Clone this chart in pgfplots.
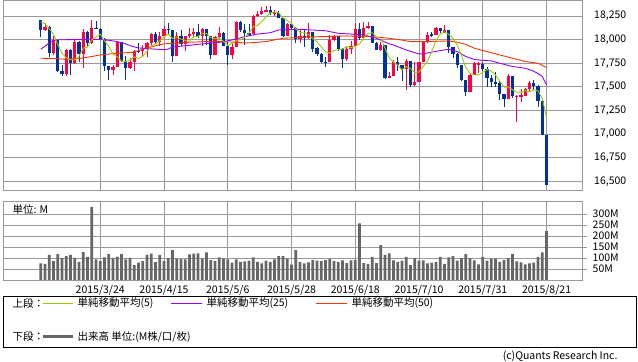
\documentclass[border=0pt]{standalone}
\usepackage{fontspec}
\setmainfont{Noto Sans CJK JP}
\usepackage{pgfplots}
\usepackage{pgfplotstable}
\pgfplotsset{compat=1.18}
\definecolor{upred}{HTML}{FF0040}
\definecolor{dnblue}{HTML}{003399}
\definecolor{ma5c}{HTML}{99CC00}
\definecolor{ma25c}{HTML}{9900FF}
\definecolor{ma50c}{HTML}{FF3300}
\definecolor{gridc}{HTML}{999999}
\definecolor{volc}{HTML}{666666}

\pgfplotstableread{
i o h l c
1 18097 18172 18090 18136
3 17857 18040 17838 17996
6 17635 17905 17615 17895
8 17749 18000 17745 17977
10 17849 18110 17696 18076
12 17959 18208 17950 18128
17 17678 17735 17630 17713
18 17713 17980 17713 17976
21 17698 17810 17690 17763
22 17763 17895 17670 17881
24 17875 17940 17825 17903
25 17903 17980 17820 17959
26 17959 18070 17945 18058
28 17977 18085 17930 18037
29 18037 18140 18035 18113
32 17826 18085 17826 18035
34 17950 18040 17880 18038
35 18038 18120 18020 18059
36 18059 18120 18020 18080
38 18038 18120 17930 18110
41 17841 18035 17841 18024
42 18024 18137 18020 18070
45 17842 17960 17800 17924
46 17924 18195 17924 18191
50 18060 18262 18060 18252
51 18252 18300 18240 18273
52 18273 18349 18260 18299
53 18299 18356 18290 18312
55 18282 18313 18250 18290
58 18042 18175 18035 18163
61 18011 18109 17960 18040
63 18012 18173 18010 18076
68 17764 18049 17764 18000
69 18000 18049 17990 18039
72 17791 17926 17770 17904
73 17904 17990 17850 17936
74 17936 18180 17936 18116
76 18016 18190 18016 18120
77 18120 18190 18110 18144
80 17890 17970 17880 17947
82 17596 17655 17590 17620
83 17620 17785 17620 17758
86 17684 17790 17462 17777
88 17515 17768 17510 17549
89 17549 17768 17549 17760
90 17760 17990 17760 17978
91 17978 18078 17960 18054
93 18050 18137 18050 18120
95 18086 18155 18067 18100
101 17441 17638 17441 17630
102 17630 17768 17630 17751
103 17740 17760 17645 17748
110 17373 17638 17373 17615
112 17395 17413 17124 17403
113 17403 17480 17335 17410
114 17408 17490 17400 17477
115 17477 17557 17450 17545
}\up

\pgfplotstableread{
i o h l c
0 18203 18208 18030 18097
2 18136 18144 17820 17857
4 17996 18000 17655 17663
5 17663 17733 17616 17635
7 17895 17900 17627 17749
9 17977 17985 17768 17849
11 18076 18090 17920 17959
13 18128 18200 18110 18116
14 18116 18118 17995 18011
15 18011 18015 17673 17719
16 17719 17725 17574 17678
19 17976 17980 17760 17776
20 17776 17830 17574 17698
23 17882 17965 17860 17874
27 18058 18085 17950 17977
30 18114 18175 18050 18105
31 18106 18106 17760 17826
33 18035 18100 17930 17950
37 18080 18170 18020 18038
39 18110 18110 17940 18036
40 18036 18036 17790 17841
43 18070 18085 17930 17928
44 17928 17970 17733 17842
47 18191 18195 18080 18105
48 18105 18170 17940 18068
49 18068 18160 18040 18060
54 18312 18351 18260 18285
56 18286 18300 18225 18232
57 18232 18232 18030 18042
59 18163 18166 18100 18126
60 18126 18137 17960 18011
62 18040 18100 17920 18012
64 18076 18085 17873 17906
65 17906 17926 17828 17849
66 17849 17856 17750 17767
67 17768 17820 17715 17762
70 18039 18040 17880 17899
71 17899 17909 17697 17791
75 18116 18173 18000 18016
78 18144 18144 17966 17966
79 17966 17970 17890 17890
81 17947 17947 17585 17596
84 17758 17821 17673 17730
85 17730 17733 17564 17684
87 17777 17777 17497 17515
92 18055 18085 18032 18049
94 18120 18125 18067 18086
96 18100 18105 17863 17919
97 17919 17926 17803 17851
98 17851 17863 17697 17732
99 17732 17733 17557 17569
100 17569 17569 17398 17441
104 17746 17768 17673 17690
105 17690 17715 17497 17598
106 17598 17627 17497 17551
107 17551 17662 17497 17540
108 17540 17557 17363 17420
109 17420 17420 17286 17373
111 17615 17615 17377 17403
116 17545 17575 17469 17511
117 17511 17520 17286 17349
118 17349 17363 16990 16991
119 16991 16991 16460 16460
}\down

\pgfplotstableread{
i v
0 76
1 73
2 114
3 86
4 118
5 101
6 109
7 114
8 101
9 83
10 127
11 105
12 333
13 94
14 86
15 103
16 118
17 101
18 106
19 118
20 94
21 101
22 68
23 79
24 86
25 115
26 120
27 82
28 114
29 86
30 100
31 136
32 98
33 95
34 94
35 117
36 120
37 121
38 98
39 126
40 91
41 86
42 103
43 98
44 94
45 79
46 94
47 83
48 85
49 88
50 103
51 83
52 76
53 88
54 83
55 94
56 109
57 109
58 98
59 70
60 136
61 83
62 76
63 80
64 91
65 88
66 86
67 91
68 95
69 86
70 82
71 89
72 77
73 89
74 91
75 258
76 77
77 73
78 105
79 77
80 159
81 114
82 121
83 89
84 83
85 88
86 105
87 68
88 100
89 88
90 89
91 76
92 79
93 83
94 105
95 73
96 103
97 109
98 88
99 100
100 118
101 100
102 89
103 71
104 105
105 88
106 98
107 98
108 83
109 91
110 100
111 118
112 85
113 80
114 71
115 76
116 79
117 105
118 126
119 223
}\vol

\pgfplotstableread{
i m
0 18187
1 18172
2 18116
3 18058
4 17950
5 17857
6 17809
7 17788
8 17784
9 17821
10 17909
11 17922
12 17998
13 18026
14 18058
15 17987
16 17930
17 17847
18 17819
19 17772
20 17768
21 17785
22 17819
23 17799
24 17824
25 17876
26 17935
27 17954
28 17987
29 18029
30 18058
31 18012
32 18023
33 18006
34 17991
35 17982
36 18032
37 18033
38 18065
39 18065
40 18021
41 18010
42 18016
43 17980
44 17941
45 17958
46 17991
47 17998
48 18026
49 18070
50 18135
51 18152
52 18190
53 18239
54 18284
55 18291
56 18283
57 18231
58 18202
59 18170
60 18115
61 18076
62 18070
63 18053
64 18009
65 17977
66 17922
67 17872
68 17857
69 17884
70 17894
71 17899
72 17927
73 17914
74 17929
75 17953
76 18018
77 18066
78 18072
79 18027
80 18013
81 17909
82 17804
83 17762
84 17730
85 17678
86 17714
87 17693
88 17651
89 17657
90 17716
91 17771
92 17878
93 17992
94 18058
95 18082
96 18055
97 18015
98 17938
99 17834
100 17702
101 17645
102 17625
103 17627
104 17652
105 17683
106 17667
107 17625
108 17560
109 17496
110 17500
111 17470
112 17443
113 17440
114 17461
115 17447
116 17469
117 17458
118 17375
119 17171
}\maf

\pgfplotstableread{
i m
0 17898
1 17930
2 17965
3 17990
4 17998
8 18000
12 18004
14 18000
16 17993
18 17979
20 17955
21 17935
23 17912
26 17902
29 17893
30 17900
31 17922
34 17935
37 17950
42 17971
45 17996
48 18031
51 18059
54 18073
56 18102
61 18109
67 18094
70 18067
73 18059
76 18049
79 18014
82 17955
83 17943
86 17890
89 17848
90 17850
92 17868
95 17891
96 17898
98 17873
100 17821
102 17790
104 17780
106 17775
108 17750
111 17715
114 17697
116 17665
117 17640
118 17609
119 17521
}\matf

\pgfplotstableread{
i m
0 17803
3 17800
6 17792
9 17800
12 17821
14 17838
18 17856
22 17866
23 17884
25 17910
27 17935
29 17955
31 17961
35 17972
39 17979
42 17979
46 17972
48 17965
50 17968
53 17979
55 17997
57 18014
62 18025
66 18032
72 18039
78 18032
82 18014
85 17995
87 17979
91 17979
96 17986
98 17972
100 17950
102 17909
105 17873
108 17838
111 17803
114 17768
117 17750
119 17704
}\mafif

\newcommand{\fs}{\fontsize{10.5bp}{12bp}\selectfont}

\begin{document}
\begin{tikzpicture}[font=\fs]
\path[use as bounding box] (0,0) rectangle (638bp,362bp);
% price panel
\begin{axis}[at={(3.3bp,171.7bp)}, anchor=south west, scale only axis,
  width=579.4bp, height=189.8bp,
  xmin=-8.8, xmax=127.5, ymin=16405, ymax=18414,
  xtick={14,29,44,59,74,89,104,119}, xticklabels={},
  ytick={16500,16750,...,18250},
  scaled y ticks=false,
  xmajorgrids, ymajorgrids,
  grid style={gridc, line width=0.8bp},
  axis line style={gridc, line width=0.9bp},
  major tick length=0pt,
  yticklabel pos=right,
  ticklabel style={font=\fs},
  yticklabel style={anchor=west, xshift=8bp, /pgf/number format/.cd, fixed, precision=0, 1000 sep={,}},
  /pgf/number format/assume math mode=true,
  clip=true]
\addplot[draw=none, mark=none, forget plot, error bars/.cd, y dir=both, y explicit, error mark=none,
  error bar style={draw=upred, line width=0.9bp}]
  table[x=i, y expr={(\thisrow{h}+\thisrow{l})/2}, y error expr={(\thisrow{h}-\thisrow{l})/2}] {\up};
\addplot[draw=none, mark=none, forget plot, error bars/.cd, y dir=both, y explicit, error mark=none,
  error bar style={draw=upred, line width=3.2bp}]
  table[x=i, y expr={(\thisrow{o}+\thisrow{c})/2}, y error expr={abs(\thisrow{c}-\thisrow{o})/2}] {\up};
\addplot[draw=none, mark=none, forget plot, error bars/.cd, y dir=both, y explicit, error mark=none,
  error bar style={draw=dnblue, line width=0.9bp}]
  table[x=i, y expr={(\thisrow{h}+\thisrow{l})/2}, y error expr={(\thisrow{h}-\thisrow{l})/2}] {\down};
\addplot[draw=none, mark=none, forget plot, error bars/.cd, y dir=both, y explicit, error mark=none,
  error bar style={draw=dnblue, line width=3.2bp}]
  table[x=i, y expr={(\thisrow{o}+\thisrow{c})/2}, y error expr={abs(\thisrow{c}-\thisrow{o})/2}] {\down};
\addplot[ma50c, line width=0.9bp, mark=none] table[x=i, y=m] {\mafif};
\addplot[ma25c, line width=0.9bp, mark=none] table[x=i, y=m] {\matf};
\addplot[ma5c, line width=0.9bp, mark=none] table[x=i, y=m] {\maf};
\end{axis}
% volume panel
\begin{axis}[at={(3.3bp,82bp)}, anchor=south west, scale only axis,
  width=579.4bp, height=78.3bp,
  xmin=-8.8, xmax=127.5, ymin=0, ymax=357,
  xtick={14,29,44,59,74,89,104,119},
  xticklabels={2015/3/24,2015/4/15,2015/5/6,2015/5/28,2015/6/18,2015/7/10,2015/7/31,2015/8/21},
  ytick={50,100,...,300},
  yticklabels={50M,100M,150M,200M,250M,300M},
  xmajorgrids, ymajorgrids,
  grid style={gridc, line width=0.8bp},
  axis line style={gridc, line width=0.9bp},
  tick align=outside, major tick length=4.5bp,
  ytick pos=right, yticklabel pos=right,
  xtick style={draw=none}, ytick style={gridc, line width=0.8bp},
  ticklabel style={font=\fs},
  yticklabel style={anchor=west, xshift=2bp},
  xticklabel style={yshift=3bp}]
\addplot[ybar, bar width=2.8bp, fill=volc, draw=none] table[x=i, y=v] {\vol};
\end{axis}
\node[anchor=west] at (9bp,152bp) {単位: M};
% legend
\draw[black, line width=0.8bp] (3.3bp,15bp) rectangle (636.5bp,65.5bp);
\node[anchor=west] at (9bp,58.5bp) {上段：};
\draw[ma5c, line width=0.9bp] (43bp,58.5bp) -- (73bp,58.5bp);
\node[anchor=west] at (74bp,58.5bp) {単純移動平均(5)};
\draw[ma25c, line width=0.9bp] (171bp,58.5bp) -- (202bp,58.5bp);
\node[anchor=west] at (203bp,58.5bp) {単純移動平均(25)};
\draw[ma50c, line width=0.9bp] (316bp,58.5bp) -- (347bp,58.5bp);
\node[anchor=west] at (348bp,58.5bp) {単純移動平均(50)};
\node[anchor=west] at (9bp,25bp) {下段：};
\draw[volc, line width=3bp] (43bp,25bp) -- (73bp,25bp);
\node[anchor=west] at (74bp,25bp) {出来高 単位:(M株/口/枚)};
\node[anchor=east] at (621bp,6bp) {(c)Quants Research Inc.};
\end{tikzpicture}
\end{document}
